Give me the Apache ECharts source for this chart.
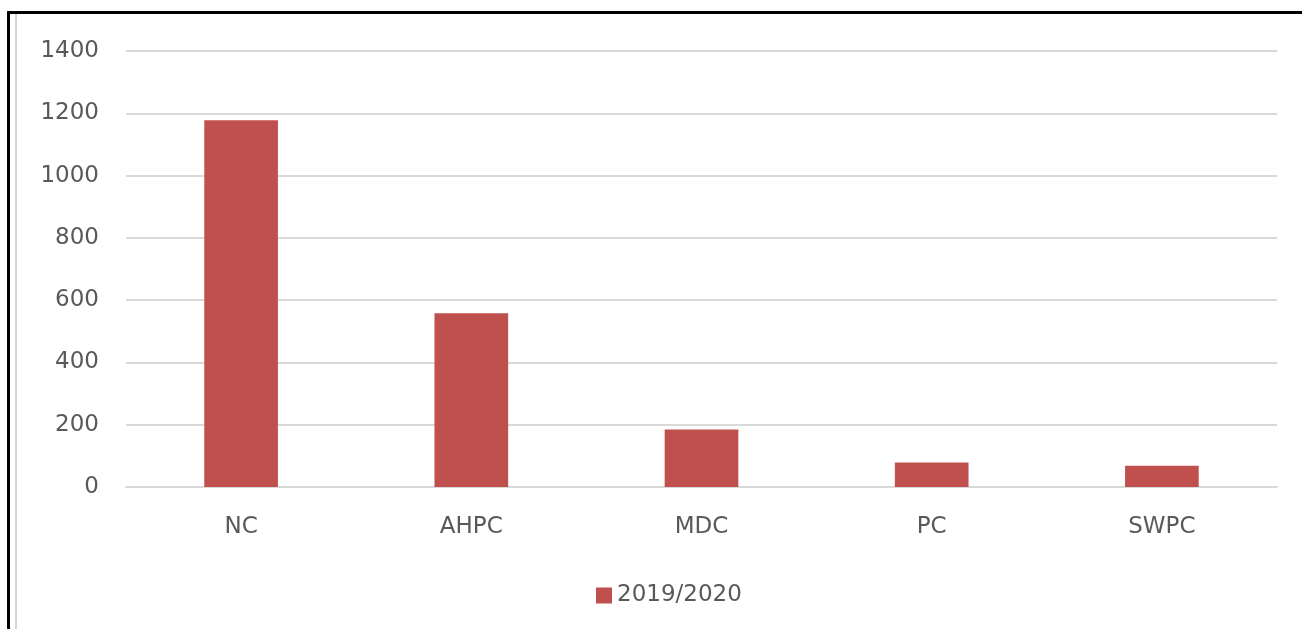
<!DOCTYPE html>
<html>
<head>
<meta charset="utf-8">
<script src="https://cdn.jsdelivr.net/npm/echarts@6/dist/echarts.min.js"></script>
<style>
  body { margin: 0; background: #fff; }
  #chart { position: absolute; left: 0; top: 0; width: 1302px; height: 629px; }
  .frame { position: absolute; left: 7px; top: 11px; width: 1295px; height: 618px;
           border-top: 3px solid #000; border-left: 3px solid #000; pointer-events: none; }
  .inner { position: absolute; left: 15px; top: 14px; width: 2px; height: 615px;
           background: #d4d4d4; pointer-events: none; }
</style>
</head>
<body>
<div id="chart"></div>
<div class="frame"></div>
<div class="inner"></div>
<script>
  const categories = ['NC', 'AHPC', 'MDC', 'PC', 'SWPC'];
  const seriesName = '2019/2020';
  const values = [1178, 558, 185, 79, 68];

  const chart = echarts.init(document.getElementById('chart'));
  const font = 'DejaVu Sans';
  chart.setOption({
    animation: false,
    grid: { left: 126, right: 25, top: 51, bottom: 142 },
    xAxis: {
      type: 'category',
      data: categories,
      axisTick: { show: false },
      axisLine: { lineStyle: { color: '#d9d9d9', width: 2 } },
      axisLabel: { margin: 29, fontSize: 23, fontFamily: font, color: '#595959' }
    },
    yAxis: {
      type: 'value',
      min: 0,
      max: 1400,
      interval: 200,
      axisLine: { show: false },
      axisTick: { show: false },
      axisLabel: {
        margin: 27, fontSize: 23, fontFamily: font, color: '#595959',
        formatter: v => String(v)
      },
      splitLine: { lineStyle: { color: '#d9d9d9', width: 2 } }
    },
    legend: {
      data: [seriesName],
      left: 591,
      top: 579,
      icon: 'rect',
      itemWidth: 16,
      itemHeight: 16,
      itemGap: 8,
      textStyle: { fontSize: 23, fontFamily: font, color: '#595959' }
    },
    series: [{
      name: seriesName,
      type: 'bar',
      data: values,
      barWidth: '32%',
      itemStyle: { color: '#c0504d' }
    }]
  });
</script>
</body>
</html>
